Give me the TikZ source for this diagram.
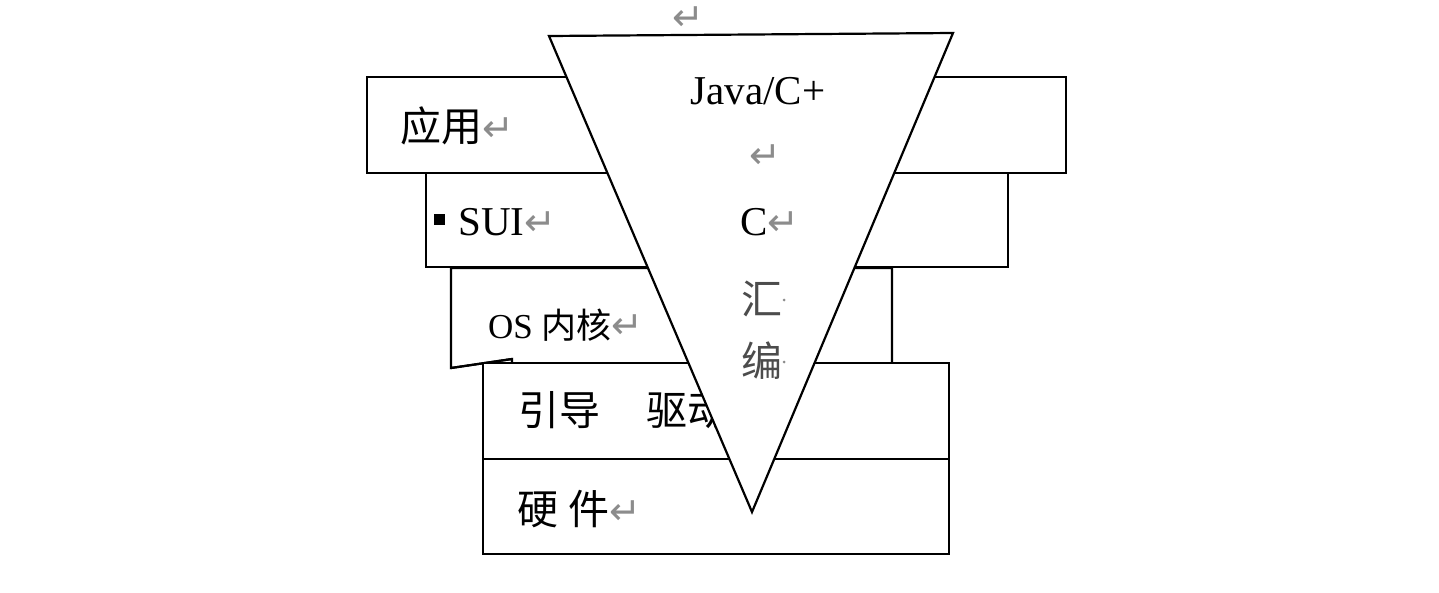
\documentclass[tikz,border=0pt]{standalone}
\usepackage{fontspec}
\setmainfont{Liberation Serif}
\newfontfamily\cjk{Noto Sans CJK SC}
\newfontfamily\dv{DejaVu Sans}
\newcommand{\rtn}{{\color{black!45}\fontsize{38}{38}\selectfont\dv ↵}}
\begin{document}
\begin{tikzpicture}[x=1pt,y=-1pt,
  box/.style={draw, line width=2.2pt, fill=white},
  lbl/.style={inner sep=0pt, anchor=west, font=\fontsize{41}{41}\selectfont},
  tri/.style={inner sep=0pt, font=\fontsize{41}{41}\selectfont},
  dim/.style={text=black!70}]
\useasboundingbox (0,0) rectangle (1439,592);
% layers
\draw[box] (367,77) rectangle (1066,173);
\draw[box] (426,173) rectangle (1008,267);
\filldraw[box] (892,364) -- (892,268) -- (451,268) -- (451,368) -- (512,359) -- (512,364) -- cycle;
\draw[line width=2.2pt] (451,368) -- (512,359);
\draw[box] (483,363) rectangle (949,459);
\draw[box] (483,459) rectangle (949,554);
% layer labels
\node[lbl] (app) at (400,126) {\cjk 应用\rtn};
\node[fill=black, inner sep=0pt, minimum size=11pt] (bul) at (439,219) {};
\node[lbl] (sui) at (458,222) {SUI\rtn};
\node[lbl, font=\fontsize{35}{35}\selectfont] (os) at (488,325) {OS {\cjk 内核}\rtn};
\node[lbl] (boot) at (518,410) {\cjk 引导\hspace{46pt}驱动};
\node[lbl] (hw) at (517,509) {\cjk 硬\hspace{10pt}件\rtn};
% triangle
\coordinate (tl) at (549,36);
\coordinate (tr) at (953,33);
\coordinate (ap) at (752,512);
\draw[line width=2.2pt, fill=white] (tl) -- (tr) -- (ap) -- cycle;
% triangle labels
\node[inner sep=0pt] (r0) at (688,19) {\rtn};
\node[tri] (java) at (758,91) {Java/C+};
\node[inner sep=0pt] (r1) at (765,157) {\rtn};
\node[lbl] (c) at (740,222) {C\rtn};
\node[tri, dim] (hui) at (762,299) {\cjk 汇};
\fill[black!45] (784,300) circle (1.5pt);
\node[tri, dim] (bian) at (762,361) {\cjk 编};
\fill[black!45] (784,362) circle (1.5pt);
\end{tikzpicture}
\end{document}
